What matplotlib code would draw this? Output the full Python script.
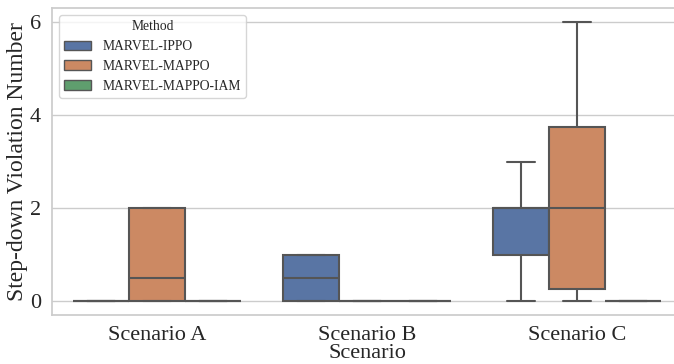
import numpy as np
import pandas as pd
import matplotlib
matplotlib.use("Agg")
import matplotlib.pyplot as plt
import seaborn as sns

# raw step-down violation counts per scenario / method
scenarios = ["Scenario A", "Scenario B", "Scenario C"]
methods = ["MARVEL-IPPO", "MARVEL-MAPPO", "MARVEL-MAPPO-IAM"]

ippo_a = [0, 0, 0, 0, 0, 0]
mappo_a = [0, 0, 0, 0, 1, 2, 2, 2]
iam_a = [0, 0, 0, 0, 0, 0]

ippo_b = [0, 0, 0, 0, 1, 1, 1, 1]
mappo_b = [0, 0, 0, 0, 0, 0]
iam_b = [0, 0, 0, 0, 0, 0]

ippo_c = [0, 1, 1, 2, 2, 2, 2, 3]
mappo_c = [0, 0, 1, 3, 4, 6]
iam_c = [0, 0, 0, 0, 0, 0]

groups = {
    ("Scenario A", "MARVEL-IPPO"): ippo_a,
    ("Scenario A", "MARVEL-MAPPO"): mappo_a,
    ("Scenario A", "MARVEL-MAPPO-IAM"): iam_a,
    ("Scenario B", "MARVEL-IPPO"): ippo_b,
    ("Scenario B", "MARVEL-MAPPO"): mappo_b,
    ("Scenario B", "MARVEL-MAPPO-IAM"): iam_b,
    ("Scenario C", "MARVEL-IPPO"): ippo_c,
    ("Scenario C", "MARVEL-MAPPO"): mappo_c,
    ("Scenario C", "MARVEL-MAPPO-IAM"): iam_c,
}

rows = []
for (sc, m), vals in groups.items():
    for v in vals:
        rows.append({"Scenario": sc, "Method": m, "Violations": v})
df = pd.DataFrame(rows)

sns.set_theme(style="whitegrid")
plt.rcParams['font.family'] = ['Liberation Serif', 'DejaVu Serif']

fig = plt.figure(figsize=(6.74, 3.64), dpi=100)
ax = fig.add_axes([52 / 674, 49 / 364, 630 / 674, 307 / 364])

sns.boxplot(data=df, x="Scenario", y="Violations", hue="Method",
            order=scenarios, hue_order=methods, ax=ax,
            linewidth=1.5, linecolor="#555555")

ax.set_ylabel("Step-down Violation Number", fontsize=17, labelpad=1)
ax.set_xlabel("Scenario", fontsize=16, labelpad=-1)
ax.tick_params(axis='both', labelsize=16, pad=2)
ax.set_yticks([0, 2, 4, 6])
ax.set_ylim(-0.3, 6.3)
ax.set_xlim(-0.5, 2.5)

leg = ax.legend(title="Method", loc="upper left", fontsize=9.8, title_fontsize=9.8)
for h in leg.legend_handles:
    h.set_linewidth(1.0)

fig.savefig("out.png", dpi=100)
